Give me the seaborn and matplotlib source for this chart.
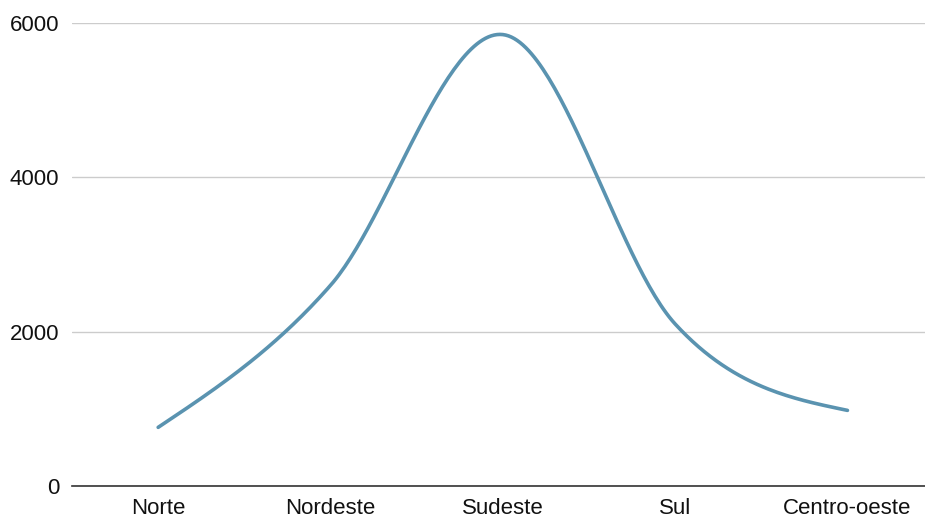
import numpy as np
import pandas as pd
import matplotlib
matplotlib.use("Agg")
import matplotlib.pyplot as plt
import seaborn as sns

# Regional values
regions = ["Norte", "Nordeste", "Sudeste", "Sul", "Centro-oeste"]
values = [760, 2600, 5850, 2100, 980]
y_ticks = [0, 2000, 4000, 6000]

LINE_COLOR = "#5a93b0"


def smooth_curve(y, samples=60):
    """Cubic Hermite curve through the points (central-difference tangents,
    natural end conditions)."""
    y = np.asarray(y, dtype=float)
    n = len(y)
    m = np.zeros(n)
    m[1:-1] = (y[2:] - y[:-2]) / 2.0
    m[0] = (3 * (y[1] - y[0]) - m[1]) / 2.0
    m[-1] = (3 * (y[-1] - y[-2]) - m[-2]) / 2.0
    xs, ys = [], []
    for i in range(n - 1):
        t = np.linspace(0, 1, samples, endpoint=(i == n - 2))
        h00 = 2 * t**3 - 3 * t**2 + 1
        h10 = t**3 - 2 * t**2 + t
        h01 = -2 * t**3 + 3 * t**2
        h11 = t**3 - t**2
        xs.append(i + t)
        ys.append(h00 * y[i] + h10 * m[i] + h01 * y[i + 1] + h11 * m[i + 1])
    return np.concatenate(xs), np.concatenate(ys)


sns.set_theme(style="white")
plt.rcParams["font.family"] = ["Liberation Sans", "DejaVu Sans"]

fig = plt.figure(figsize=(9.25, 5.19), dpi=100)
ax = fig.add_axes([72 / 925, 33 / 519, 853 / 925, 463 / 519])

cx, cy = smooth_curve(values)
curve = pd.DataFrame({"pos": cx, "value": cy})
sns.lineplot(data=curve, x="pos", y="value", ax=ax, color=LINE_COLOR,
             linewidth=2.6, sort=False, estimator=None)

ax.set_xlim(-0.5, 4.45)
ax.set_ylim(0, 6000)
ax.set_xticks(range(len(regions)))
ax.set_xticklabels(regions)
ax.set_yticks(y_ticks)
ax.set_yticklabels([str(v) for v in y_ticks])
ax.set_xlabel("")
ax.set_ylabel("")

ax.yaxis.grid(True, color="#cccccc", linewidth=1)
ax.xaxis.grid(False)
ax.set_axisbelow(True)
for side in ["top", "right", "left"]:
    ax.spines[side].set_visible(False)
ax.spines["bottom"].set_color("#333333")
ax.spines["bottom"].set_linewidth(1.2)

ax.tick_params(axis="both", length=0, labelsize=16, colors="#111111")
ax.tick_params(axis="y", pad=9)
ax.tick_params(axis="x", pad=9)

fig.savefig("out.png", dpi=100)
